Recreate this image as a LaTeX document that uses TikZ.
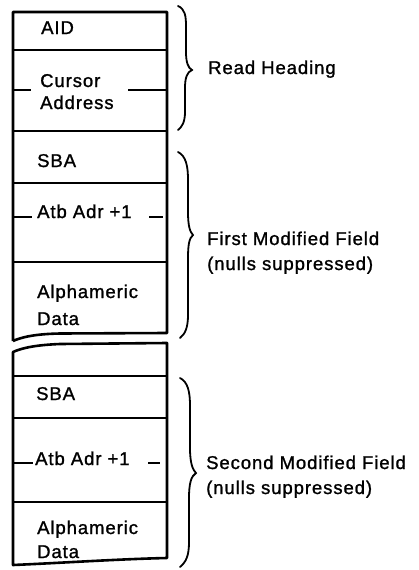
\documentclass[tikz,border=0pt]{standalone}
\usepackage{fontspec}
\setmainfont[LetterSpace=5,FakeBold=1.2]{Liberation Sans}
\begin{document}
\begin{tikzpicture}[x=1pt,y=-1pt,
  outer/.style={line width=2.6pt,line join=round},
  inner/.style={line width=1.4pt},
  tick/.style={line width=1.4pt},
  brc/.style={line width=1.8pt,line cap=round},
  lbl/.style={anchor=base west,inner sep=0pt,font=\fontsize{18.5}{22}\selectfont}]
\useasboundingbox (0,0) rectangle (418,570);
% first block outline
\draw[outer] (13,341) -- (13,12) -- (167,12) -- (167,333)
  -- (60,333.5) .. controls (35,334) and (22,337) .. (13,341);
\draw[inner] (13,50) -- (167,50);
\draw[inner] (13,131) -- (167,131);
\draw[inner] (13,183) -- (167,183);
\draw[inner] (13,262) -- (167,262);
% second block outline
\draw[outer] (13,352) .. controls (22,348) and (35,345) .. (60,344) -- (167,343)
  -- (167,558) .. controls (120,559) and (60,563) .. (13,565) -- cycle;
\draw[inner] (13,376) -- (167,376);
\draw[inner] (13,418) -- (167,418);
\draw[inner] (13,502) -- (167,502);
% texts in boxes
\node[lbl] (aid) at (41,34) {AID};
\node[lbl] (cur1) at (40,87) {Cursor};
\node[lbl] (cur2) at (40,109) {Address};
\node[lbl] (sba1) at (37,167) {SBA};
\node[lbl] (atb1) at (37,218) {Atb Adr +1};
\node[lbl] (alp1) at (37,298) {Alphameric};
\node[lbl] (dat1) at (37,325) {Data};
\node[lbl] (sba2) at (36,400) {SBA};
\node[lbl] (atb2) at (35,465) {Atb Adr +1};
\node[lbl] (alp2) at (37,534) {Alphameric};
\node[lbl] (dat2) at (37,558) {Data};
% ticks
\draw[tick] (13,90) -- (31,90);
\draw[tick] (128,90) -- (167,90);
\draw[tick] (13,217) -- (32,217);
\draw[tick] (149,217) -- (163,217);
\draw[tick] (13,463) -- (33,463);
\draw[tick] (148,463) -- (160,463);
% braces
\draw[brc] (178,6) .. controls (185,9) and (186,16) .. (186,26)
  -- (186,52) .. controls (186,62) and (188,68) .. (192,70)
  .. controls (187,72) and (185,78) .. (185,88)
  -- (185,112) .. controls (185,122) and (182,127) .. (178,130);
\draw[brc] (178,152) .. controls (186,156) and (188,166) .. (188,180)
  -- (188,212) .. controls (188,226) and (190,232) .. (193,235)
  .. controls (189,238) and (188,246) .. (188,258)
  -- (188,315) .. controls (188,328) and (185,334) .. (180,338);
\draw[brc] (180,378) .. controls (188,382) and (190,392) .. (190,406)
  -- (190,448) .. controls (190,464) and (193,470) .. (196,473)
  .. controls (191,476) and (189,484) .. (189,498)
  -- (189,542) .. controls (189,556) and (186,562) .. (180,567);
% labels
\node[lbl] (rh) at (208,74) {Read Heading};
\node[lbl] (fm1) at (207,245) {First Modified Field};
\node[lbl] (fm2) at (207,270) {(nulls suppressed)};
\node[lbl] (sm1) at (206,469) {Second Modified Field};
\node[lbl] (sm2) at (206,494) {(nulls suppressed)};
\end{tikzpicture}
\end{document}
